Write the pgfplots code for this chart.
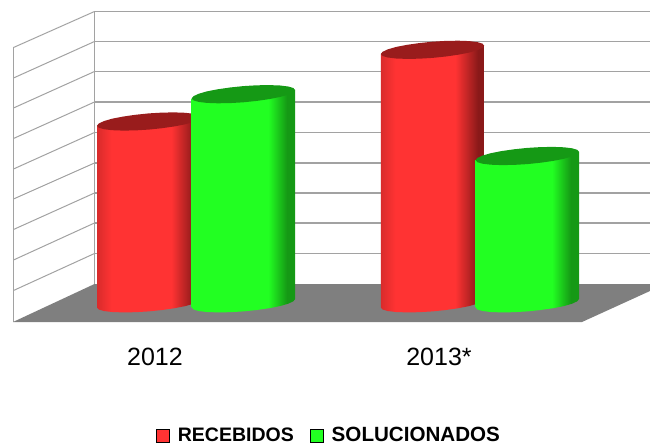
\documentclass[border=0pt]{standalone}
\usepackage{fontspec}
\setmainfont{Liberation Sans}
\usepackage{pgfplots}
\pgfplotsset{compat=1.18}

\definecolor{redtop}{HTML}{991C1C}
\definecolor{greentop}{HTML}{159915}
\definecolor{redface}{HTML}{FF3333}
\definecolor{greenface}{HTML}{22FF22}
\definecolor{floorc}{HTML}{7F7F7F}
\definecolor{gridc}{HTML}{A2A2A2}

% cylinder side, the stops 25bp..75bp span the width of the bar
\pgfdeclarehorizontalshading{redcyl}{100bp}{
  color(0bp)=(redface!85!black); color(25bp)=(redface!85!black);
  color(32bp)=(redface); color(61bp)=(redface);
  color(72bp)=(redtop!90!black); color(100bp)=(redtop!90!black)}
\pgfdeclarehorizontalshading{greencyl}{100bp}{
  color(0bp)=(greenface); color(25bp)=(greenface);
  color(62bp)=(greenface); color(71bp)=(greentop); color(100bp)=(greentop)}

\begin{document}
\begin{tikzpicture}
\path[use as bounding box] (0,0) rectangle (650pt,446pt);
\begin{axis}[
    at={(0,0)}, anchor=south west,
    scale only axis,
    width=650pt,
    height=446pt,
    xmin=0, xmax=650,
    ymin=0, ymax=446,
    y dir=reverse,
    hide axis,
    legend columns=2,
    legend entries={{\fontsize{19.5}{24}\selectfont RECEBIDOS},{\fontsize{20.6}{24}\selectfont SOLUCIONADOS}},
    legend image code/.code={\fill[#1] (0pt,-6.5pt) rectangle (13pt,6.5pt);},
    legend style={
        at={(axis cs:156,435.5)}, anchor=west,
        draw=none, fill=none, inner sep=0pt, outer sep=0pt,
        font=\bfseries,
        /tikz/every odd column/.append style={column sep=8.5pt},
        /tikz/every even column/.append style={column sep=16pt},
        nodes={inner sep=0pt, outer sep=0pt, anchor=west},
    },
]
\addlegendimage{fill=redface}
\addlegendimage{fill=greenface}

% back wall
\addplot[gridc, line width=1.2pt, forget plot] coordinates {(94.5,11.5)(650,11.5)};
\addplot[gridc, line width=1.2pt, forget plot] coordinates {(94.5,41.5)(650,41.5)};
\addplot[gridc, line width=1.2pt, forget plot] coordinates {(94.5,71.5)(650,71.5)};
\addplot[gridc, line width=1.2pt, forget plot] coordinates {(94.5,102)(650,102)};
\addplot[gridc, line width=1.2pt, forget plot] coordinates {(94.5,132.5)(650,132.5)};
\addplot[gridc, line width=1.2pt, forget plot] coordinates {(94.5,163)(650,163)};
\addplot[gridc, line width=1.2pt, forget plot] coordinates {(94.5,193)(650,193)};
\addplot[gridc, line width=1.2pt, forget plot] coordinates {(94.5,223)(650,223)};
\addplot[gridc, line width=1.2pt, forget plot] coordinates {(94.5,253.5)(650,253.5)};
\addplot[gridc, line width=1pt, forget plot] coordinates {(94.5,11.5)(94.5,284)};

% left wall
\addplot[gridc, line width=1pt, forget plot] coordinates {(13.5,47.5)(94.5,11.5)};
\addplot[gridc, line width=1pt, forget plot] coordinates {(13.5,78)(94.5,41.5)};
\addplot[gridc, line width=1pt, forget plot] coordinates {(13.5,108)(94.5,71.5)};
\addplot[gridc, line width=1pt, forget plot] coordinates {(13.5,138.5)(94.5,102)};
\addplot[gridc, line width=1pt, forget plot] coordinates {(13.5,169)(94.5,132.5)};
\addplot[gridc, line width=1pt, forget plot] coordinates {(13.5,199)(94.5,163)};
\addplot[gridc, line width=1pt, forget plot] coordinates {(13.5,229.5)(94.5,193)};
\addplot[gridc, line width=1pt, forget plot] coordinates {(13.5,260)(94.5,223)};
\addplot[gridc, line width=1pt, forget plot] coordinates {(13.5,290.5)(94.5,253.5)};
\addplot[gridc, line width=1pt, forget plot] coordinates {(13.5,47.5)(13.5,321.5)};

% floor
\addplot[fill=floorc, draw=none, forget plot] coordinates
    {(13,322)(582,322)(650,291)(650,284)(94.5,284)(13,322)};

% 2012 RECEBIDOS
\addplot[draw=none, shading=redcyl, forget plot] coordinates {
    (200.4,117.3)(200.4,299.1)(198.6,301.3)(193.5,303.7)(185.3,306.1)(174.6,308.2)(162.1,310.0)(148.7,311.4)
    (135.3,312.2)(122.9,312.4)(112.1,312.0)(103.9,311.0)(98.8,309.5)(97,307.5)(97,125.7)(200.4,117.3)};
\addplot[fill=redtop, draw=none, forget plot] coordinates {
    (200.4,117.3)(198.6,119.5)(193.5,121.9)(185.3,124.3)(174.6,126.4)(162.1,128.2)(148.7,129.6)(135.3,130.4)
    (122.9,130.6)(112.1,130.2)(103.9,129.2)(98.8,127.7)(97,125.7)(98.8,123.5)(103.9,121.1)(112.1,118.7)
    (122.9,116.6)(135.3,114.8)(148.7,113.4)(162.1,112.6)(174.6,112.4)(185.3,112.8)(193.5,113.8)(198.6,115.3)(200.4,117.3)};

% 2012 SOLUCIONADOS
\addplot[draw=none, shading=greencyl, forget plot] coordinates {
    (295.1,90.0)(295.1,299.1)(293.3,301.3)(288.2,303.7)(280.0,306.1)(269.3,308.2)(256.8,310.0)(243.4,311.4)
    (230.0,312.2)(217.6,312.4)(206.8,312.0)(198.6,311.0)(193.5,309.5)(191.7,307.5)(191.7,98.4)(295.1,90.0)};
\addplot[fill=greentop, draw=none, forget plot] coordinates {
    (295.1,90.0)(293.3,92.2)(288.2,94.6)(280.0,97.0)(269.3,99.1)(256.8,100.9)(243.4,102.3)(230.0,103.1)
    (217.6,103.3)(206.8,102.9)(198.6,101.9)(193.5,100.4)(191.7,98.4)(193.5,96.2)(198.6,93.8)(206.8,91.4)
    (217.6,89.3)(230.0,87.5)(243.4,86.1)(256.8,85.3)(269.3,85.1)(280.0,85.5)(288.2,86.5)(293.3,88.0)(295.1,90.0)};

% 2013 RECEBIDOS
\addplot[draw=none, shading=redcyl, forget plot] coordinates {
    (484.2,45.6)(484.2,299.1)(482.4,301.3)(477.3,303.7)(469.1,306.1)(458.4,308.2)(445.9,310.0)(432.5,311.4)
    (419.1,312.2)(406.7,312.4)(395.9,312.0)(387.7,311.0)(382.6,309.5)(380.8,307.5)(380.8,54.0)(484.2,45.6)};
\addplot[fill=redtop, draw=none, forget plot] coordinates {
    (484.2,45.6)(482.4,47.8)(477.3,50.2)(469.1,52.6)(458.4,54.7)(445.9,56.5)(432.5,57.9)(419.1,58.7)
    (406.7,58.9)(395.9,58.5)(387.7,57.5)(382.6,56.0)(380.8,54.0)(382.6,51.8)(387.7,49.4)(395.9,47.0)
    (406.7,44.9)(419.1,43.1)(432.5,41.7)(445.9,40.9)(458.4,40.7)(469.1,41.1)(477.3,42.1)(482.4,43.6)(484.2,45.6)};

% 2013 SOLUCIONADOS
\addplot[draw=none, shading=greencyl, forget plot] coordinates {
    (579.0,151.8)(579.0,299.1)(577.2,301.3)(572.1,303.7)(563.9,306.1)(553.2,308.2)(540.7,310.0)(527.3,311.4)
    (513.9,312.2)(501.5,312.4)(490.7,312.0)(482.5,311.0)(477.4,309.5)(475.6,307.5)(475.6,160.2)(579.0,151.8)};
\addplot[fill=greentop, draw=none, forget plot] coordinates {
    (579.0,151.8)(577.2,154.0)(572.1,156.4)(563.9,158.8)(553.2,160.9)(540.7,162.7)(527.3,164.1)(513.9,164.9)
    (501.5,165.1)(490.7,164.7)(482.5,163.7)(477.4,162.2)(475.6,160.2)(477.4,158.0)(482.5,155.6)(490.7,153.2)
    (501.5,151.1)(513.9,149.3)(527.3,147.9)(540.7,147.1)(553.2,146.9)(563.9,147.3)(572.1,148.3)(577.2,149.8)(579.0,151.8)};

\node[font=\fontsize{25}{30}\selectfont] at (axis cs:155,357) {2012};
\node[font=\fontsize{25}{30}\selectfont] at (axis cs:439,357) {2013*};
\end{axis}
\end{tikzpicture}
\end{document}
